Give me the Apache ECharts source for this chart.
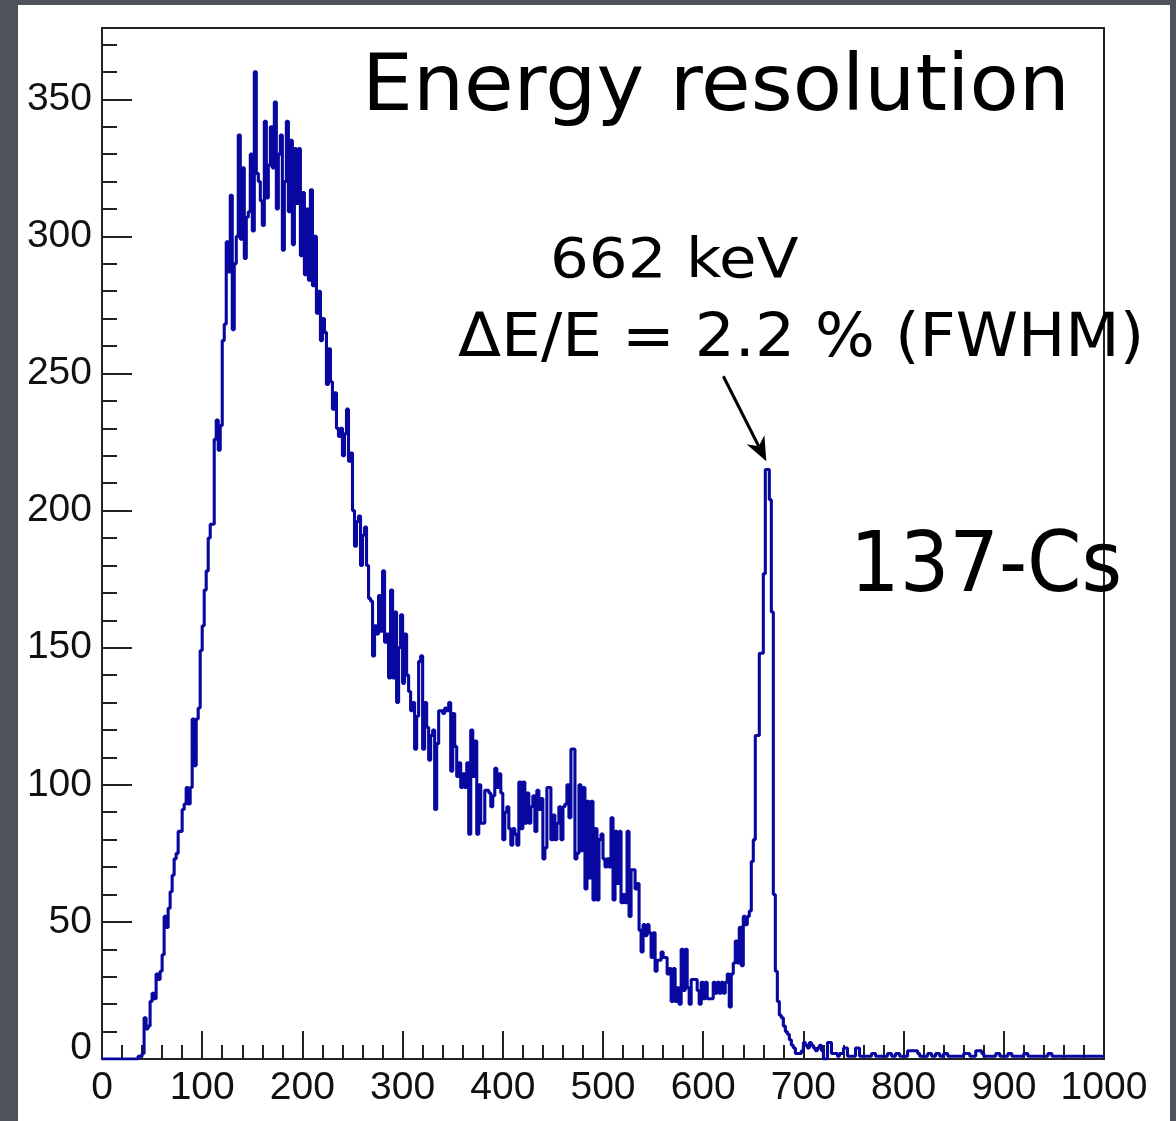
<!DOCTYPE html>
<html>
<head>
<meta charset="utf-8">
<script src="https://cdn.jsdelivr.net/npm/echarts@6/dist/echarts.min.js"></script>
<style>
html,body{margin:0;padding:0;background:#4e525a;}
#chart{width:1176px;height:1121px;}
</style>
</head>
<body>
<div id="chart"></div>
<script>
// ---- data (2 keV bins starting at 0) ----
const binWidth = 2;
const xRange = [0, 1000];
const yRange = [0, 376];
const xTickStep = 100;
const yTickStep = 50;
const counts = [
  0,0,0,0,0,0,0,0,0,0, 0,0,0,0,0,0,0,0, 1,1,          // 0..38
  2,15,11,12,21,24,22,31,29,32,                       // 40..58
  38,52,48,55,61,67,73,75,83,83,                      // 60..78
  91,93,99,93,99,124,107,124,128,149,                 // 80..98
  158,171,178,190,195,195,226,233,222,231,            // 100..118
  262,268,298,287,315,266,290,300,337,299,            // 120..138
  325,292,307,309,330,302,360,323,320,313,            // 140..158
  304,342,314,326,340,325,349,310,330,337,            // 160..178
  295,320,342,309,335,297,332,312,332,293,            // 180..198
  316,286,310,284,317,282,300,272,280,262,            // 200..218
  270,265,246,259,247,237,243,230,227,230,            // 220..238
  220,228,237,218,221,200,187,196,198,180,            // 240..258
  191,194,180,168,167,147,158,155,169,156,            // 260..278
  178,152,155,139,171,139,163,130,150,162,            // 280..298
  137,155,140,134,127,130,113,125,145,147,            // 300..318
  113,130,121,109,118,120,91,115,127,127,             // 320..338
  126,128,127,130,105,126,114,103,108,99,             // 340..358
  104,99,108,82,120,103,116,82,100,86,                // 360..378
  86,98,98,97,92,96,106,99,104,97,                    // 380..398
  80,90,92,84,78,84,82,78,101,84,                     // 400..418
  101,86,97,86,92,96,83,98,91,95,                     // 420..438
  73,77,99,99,80,89,80,86,92,80,                      // 440..458
  92,93,100,88,113,113,73,75,100,76,                  // 460..478
  99,62,94,66,94,58,84,58,80,82,                      // 480..498
  73,70,73,70,88,58,83,64,83,57,                      // 500..518
  60,57,83,52,69,69,62,64,47,39,                      // 520..538
  49,45,49,46,37,46,32,36,36,39,                      // 540..558
  37,37,31,33,21,33,21,26,20,40,                      // 560..578
  25,40,26,20,29,29,29,25,20,28,                      // 580..598
  22,28,22,22,22,28,24,28,24,28,                      // 600..618
  24,28,31,19,31,35,43,35,48,34,                      // 620..638
  52,49,52,54,72,80,118,118,148,148,                  // 640..658
  177,215,215,204,163,60,32,21,16,15,                 // 660..678
  12,10,9,7,5,4,2,2,2,3,                              // 680..698
  6,5,4,6,5,4,3,4,5,3,                                // 700..718
  0,0,6,6,2,2,2,1,2,2,                                // 720..738
  4,4,1,1,1,1,4,4,1,1,                                // 740..758
  1,1,1,1,2,2,1,1,1,1,                                // 760..778
  1,1,2,2,1,1,2,2,1,1,                                // 780..798
  1,1,3,3,3,3,3,2,1,1,                                // 800..818
  1,1,2,2,1,1,2,2,1,1,                                // 820..838
  2,2,1,1,1,1,1,1,1,1,                                // 840..858
  2,2,2,1,1,1,3,3,3,2,                                // 860..878
  1,1,1,1,1,1,2,2,1,1,                                // 880..898
  1,1,2,2,1,1,1,1,1,1,                                // 900..918
  2,2,1,1,1,1,1,1,1,1,                                // 920..938
  1,1,2,2,1,1,1,1,1,1,                                // 940..958
  1,1,1,1,1,1,1,1,1,1,                                // 960..978
  1,1,1,1,1,1,1,1,1,1                                 // 980..998
];
const titleText = 'Energy resolution';
const lineText = '662 keV';
const resText = 'ΔE/E = 2.2 % (FWHM)';
const sourceText = '137-Cs';
const peakPoint = [663, 218];

// histogram as step line points (bin left edges + closing edge)
const histPoints = counts.map((c, i) => [xRange[0] + i * binWidth, c]);
histPoints.push([xRange[0] + counts.length * binWidth, counts[counts.length - 1]]);

const chart = echarts.init(document.getElementById('chart'), null, {renderer: 'canvas'});
const axisColor = '#222';
const labelFont = '"Liberation Sans", Arial, sans-serif';
const handFont = '"DejaVu Sans", sans-serif';

const option = {
  backgroundColor: '#4e525a',
  animation: false,
  grid: {left: 102, top: 28, right: 72, bottom: 62, show: true,
         borderColor: axisColor, borderWidth: 2, backgroundColor: '#fff'},
  xAxis: {
    type: 'value', min: xRange[0], max: xRange[1], interval: xTickStep,
    axisLine: {show: true, onZero: false, lineStyle: {color: axisColor, width: 2}},
    axisTick: {show: true, inside: true, length: 28, lineStyle: {color: axisColor, width: 2}},
    minorTick: {show: true, splitNumber: 5, length: 14, lineStyle: {color: axisColor, width: 2}},
    splitLine: {show: false},
    axisLabel: {fontFamily: labelFont, fontSize: 39, color: '#111', margin: 10,
                formatter: v => String(v)}
  },
  yAxis: [
    {
      type: 'value', min: yRange[0], max: yRange[1], interval: yTickStep,
      axisLine: {show: true, lineStyle: {color: axisColor, width: 2}},
      axisTick: {show: true, inside: true, length: 30, lineStyle: {color: axisColor, width: 2}},
      splitLine: {show: false},
      axisLabel: {
        fontFamily: labelFont, fontSize: 39, color: '#111', margin: 10,
        formatter: v => (v % yTickStep === 0 ? (v === 0 ? '{z|0}' : String(v)) : ''),
        rich: {z: {fontFamily: labelFont, fontSize: 39, color: '#111', padding: [0, 0, 22, 0]}}
      }
    },
    {
      type: 'value', min: yRange[0], max: yRange[1], interval: yTickStep / 5, position: 'left',
      axisLine: {show: false},
      axisTick: {show: true, inside: true, length: 15, lineStyle: {color: axisColor, width: 2}},
      splitLine: {show: false},
      axisLabel: {show: false}
    }
  ],
  series: [{
    type: 'line', step: 'end', data: histPoints, showSymbol: false, symbol: 'none',
    yAxisIndex: 0, clip: true, z: 3,
    lineStyle: {color: '#0808a0', width: 3.1}
  }]
};
chart.setOption(option);

// annotations
const tip = chart.convertToPixel({xAxisIndex: 0, yAxisIndex: 0}, peakPoint);
const tail = [tip[0] - 43, tip[1] - 85];
const dx = tip[0] - tail[0], dy = tip[1] - tail[1];
const len = Math.sqrt(dx * dx + dy * dy);
const ux = dx / len, uy = dy / len, px = -uy, py = ux;
const L = 24, W = 10;
const headPts = [
  [tip[0], tip[1]],
  [tip[0] - ux * L + px * W, tip[1] - uy * L + py * W],
  [tip[0] - ux * L * 0.7, tip[1] - uy * L * 0.7],
  [tip[0] - ux * L - px * W, tip[1] - uy * L - py * W]
];

function label(text, x, y, size, sx) {
  return {type: 'text', z: 10, x: x, y: y, scaleX: sx,
          style: {text: text, font: size + 'px ' + handFont, fill: '#000',
                  textAlign: 'left', textVerticalAlign: 'middle'}};
}

chart.setOption({
  graphic: [
    {type: 'rect', z: -100, shape: {x: 18, y: 5, width: 1152, height: 1130}, style: {fill: '#fff'}, silent: true},
    label(titleText, 362, 89, 79, 1.02),
    label(lineText, 550, 262, 56, 1.09),
    label(resText, 458, 340, 60, 1.05),
    label(sourceText, 850, 569, 83, 0.94),
    {type: 'line', z: 10, shape: {x1: tail[0], y1: tail[1], x2: tip[0] - ux * L * 0.7, y2: tip[1] - uy * L * 0.7},
     style: {stroke: '#000', lineWidth: 3}},
    {type: 'polygon', z: 10, shape: {points: headPts}, style: {fill: '#000'}}
  ]
});
</script>
</body>
</html>
